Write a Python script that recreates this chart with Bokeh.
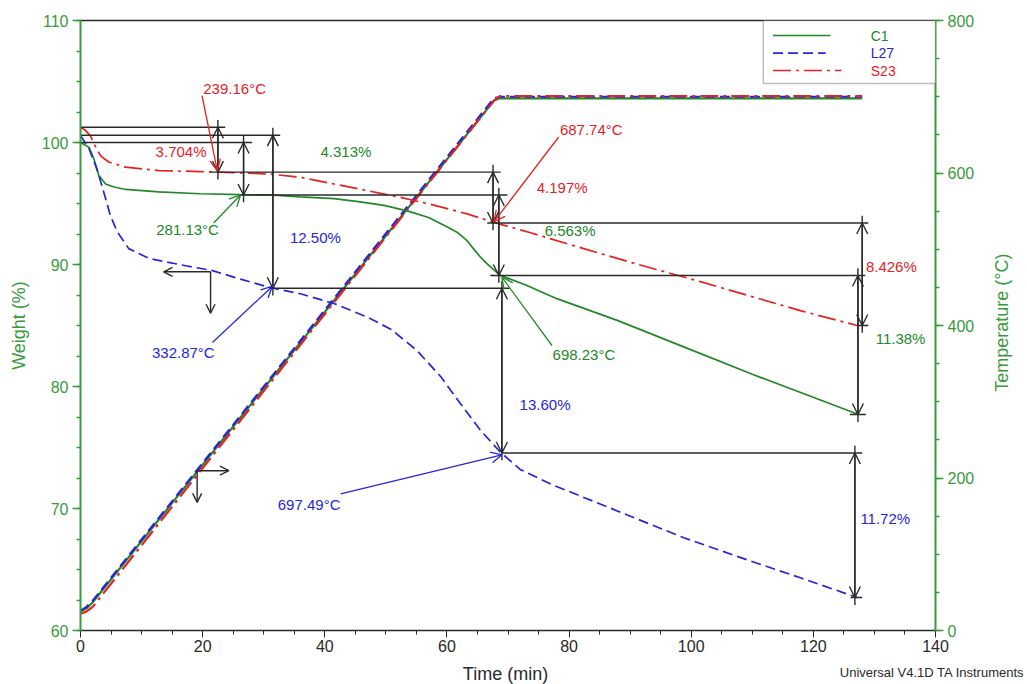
from math import pi
from bokeh.plotting import figure
from bokeh.layouts import column, row
from bokeh.models import (Range1d, LinearAxis, SingleIntervalTicker, FixedTicker, Arrow,
                          OpenHead, ColumnDataSource, Label, BoxAnnotation)
from bokeh.embed import file_html
from bokeh.resources import INLINE
from bokeh.core.properties import value

# ---------------- data ----------------
c1_time = [0, 1.4, 2.2, 3.0, 4.1, 5.5, 7.4, 12.8, 19.6, 26.2, 31.1, 36.0, 41.5, 45.5, 49.7,
           53.5, 57.0, 60.0, 61.8, 63.3, 64.5, 65.5, 66.5, 67.6, 68.8, 73.0, 78.0, 88.0,
           100.0, 110.0, 119.0, 127.4]
c1_weight = [100.0, 99.6, 98.65, 97.3, 96.6, 96.35, 96.15, 95.95, 95.8, 95.72, 95.7, 95.55,
             95.4, 95.15, 94.84, 94.4, 93.85, 93.1, 92.6, 91.95, 91.2, 90.6, 90.1, 89.6, 89.1,
             88.3, 87.2, 85.4, 83.0, 81.0, 79.3, 77.7]

l27_time = [0, 1.4, 2.7, 3.8, 4.9, 6.0, 7.9, 11.2, 17.2, 21.6, 26.2, 31.1, 36.0, 41.5, 46.9,
            50.8, 55.1, 59.0, 62.2, 65.5, 68.8, 72.0, 77.0, 87.9, 98.8, 109.7, 118.0, 127.2]
l27_weight = [100.57, 99.5, 97.8, 95.95, 94.0, 92.7, 91.3, 90.5, 89.9, 89.5, 88.8, 88.1, 87.6,
              86.8, 85.7, 84.7, 82.95, 80.8, 78.6, 76.4, 74.6, 73.2, 72.0, 69.8, 67.6, 65.7,
              64.3, 62.7]

s23_time = [0, 0.8, 1.6, 2.5, 3.3, 4.6, 7.4, 12.8, 19.6, 22.4, 30.6, 36.0, 41.5, 47.0, 52.4,
            58.0, 63.3, 67.7, 73.7, 82.4, 91.0, 101.5, 109.7, 118.0, 127.2]
s23_weight = [101.25, 101.0, 100.57, 99.6, 98.9, 98.4, 97.98, 97.7, 97.62, 97.57, 97.43, 97.15,
              96.6, 96.05, 95.5, 94.85, 94.15, 93.45, 92.6, 91.3, 90.05, 88.6, 87.4, 86.2, 85.0]

temp_time = [0, 1, 2, 67.7, 68.7, 128]
c1_temp = [25, 29, 37, 695, 698, 698]
l27_temp = [26, 31, 39, 698, 700, 700]
s23_temp = [22, 25, 31, 695, 701, 701]

series_names = ["C1", "L27", "S23"]

# step-analysis reference levels: weight, from time, to time
level_weight = [101.25, 100.6, 100.0, 97.57, 95.7, 93.4, 89.1, 88.05, 74.55, 85.0, 77.7, 62.7]
level_from = [0, 0, 0, 21.3, 26.2, 66.6, 67.1, 31.1, 69.0, 127.2, 126.0, 126.1]
level_to = [23.7, 32.7, 28.1, 68.8, 69.9, 129.0, 128.5, 70.3, 128.0, 129.0, 128.6, 128.0]

# step-change double arrows: time, upper weight, lower weight
step_time = [22.5, 26.7, 31.5, 67.55, 68.5, 69.0, 128.0, 127.3, 126.8]
step_top = [101.25, 100.0, 100.6, 97.57, 95.7, 88.05, 93.4, 89.1, 74.55]
step_bottom = [97.57, 95.7, 88.05, 93.4, 89.1, 74.55, 85.0, 77.7, 62.7]

# step-change labels
step_text = ["3.704%", "4.313%", "12.50%", "4.197%", "6.563%", "13.60%", "8.426%", "11.38%", "11.72%"]
step_text_x = [12.3, 39.3, 34.3, 74.7, 76.0, 71.9, 128.6, 130.2, 127.7]
step_text_y = [99.3, 99.3, 92.2, 96.3, 92.8, 78.5, 89.8, 83.9, 69.2]
step_text_series = ["S23", "C1", "L27", "S23", "C1", "L27", "S23", "C1", "L27"]

# onset temperature callouts
onset_text = ["239.16°C", "281.13°C", "332.87°C", "687.74°C", "698.23°C", "697.49°C"]
onset_series = ["S23", "C1", "L27", "S23", "C1", "L27"]
onset_text_x = [20.1, 12.4, 11.7, 78.5, 77.3, 32.3]
onset_text_y = [104.4, 92.9, 82.8, 101.05, 82.6, 70.3]
onset_from_x = [19.9, 21.8, 21.6, 78.3, 77.2, 42.6]
onset_from_y = [103.85, 93.4, 83.6, 100.45, 83.36, 71.2]
onset_to_x = [22.4, 26.2, 31.4, 67.7, 69.0, 69.0]
onset_to_y = [97.7, 95.7, 88.2, 93.5, 88.96, 74.4]

# axis-side indicator arrows: corner time, corner weight, horizontal tip time, vertical tip weight
ind_x = [21.3, 19.1]
ind_y = [89.4, 73.1]
ind_hx = [13.6, 24.3]
ind_vy = [86.0, 70.5]

# ---------------- styles ----------------
FONT = "Liberation Sans"
GREEN = "#23882a"
AXIS_GREEN = "#3a9a3e"
BLUE = "#2626d6"
RED = "#e5221f"
INK = "#2a2a2a"
colors = {"C1": GREEN, "L27": BLUE, "S23": RED}
dashes = {"C1": "solid", "L27": "10 5", "S23": "18 5 3 5"}

p = figure(width=985, height=660, x_range=Range1d(0, 140), y_range=Range1d(60, 110),
           output_backend="svg", toolbar_location=None,
           min_border_left=80, min_border_right=50, min_border_top=20, min_border_bottom=30)
p.extra_y_ranges = {"temp": Range1d(0, 800)}
p.outline_line_color = None
p.xgrid.visible = False
p.ygrid.visible = False
p.background_fill_color = "white"

# axes
xa = p.xaxis[0]
xa.ticker = SingleIntervalTicker(interval=20, num_minor_ticks=4)
xa.axis_line_color = INK
xa.axis_line_width = 1.5
xa.major_tick_line_color = INK
xa.minor_tick_line_color = INK
xa.major_tick_out = 7
xa.major_tick_in = 0
xa.minor_tick_out = 4
xa.minor_tick_in = 0
xa.major_label_text_font = FONT
xa.major_label_text_font_size = "16px"
xa.major_label_text_color = INK
xa.major_label_standoff = 2

ya = p.yaxis[0]
ya.ticker = SingleIntervalTicker(interval=10, num_minor_ticks=4)
ya.axis_label = "Weight (%)"
ya.axis_label_standoff = 10

ra = LinearAxis(y_range_name="temp", ticker=SingleIntervalTicker(interval=200, num_minor_ticks=4))
p.add_layout(ra, "right")
for ax in [ya, ra]:
    ax.axis_line_color = AXIS_GREEN
    ax.axis_line_width = 2
    ax.major_tick_line_color = AXIS_GREEN
    ax.minor_tick_line_color = AXIS_GREEN
    ax.major_tick_line_width = 1.5
    ax.minor_tick_line_width = 1.5
    ax.major_tick_out = 8
    ax.major_tick_in = 0
    ax.minor_tick_out = 4
    ax.minor_tick_in = 0
    ax.major_label_text_font = FONT
    ax.major_label_text_font_size = "16px"
    ax.major_label_text_color = AXIS_GREEN
    ax.major_label_standoff = 4
    ax.axis_label_text_font = FONT
    ax.axis_label_text_font_style = "normal"
    ax.axis_label_text_font_size = "18px"
    ax.axis_label_text_color = AXIS_GREEN

top = LinearAxis(ticker=FixedTicker(ticks=[]), major_tick_out=0, minor_tick_out=0,
                 major_tick_in=0, minor_tick_in=0, axis_line_color=INK, axis_line_width=1.5,
                 major_label_text_font_size="0px")
p.add_layout(top, "above")

# temperature curves
for t, name in zip([c1_temp, l27_temp, s23_temp], series_names):
    p.line(temp_time, t, y_range_name="temp", line_color=colors[name], line_width=2.2,
           line_dash=dashes[name])

# weight curves
for tt, ww, name in zip([c1_time, l27_time, s23_time], [c1_weight, l27_weight, s23_weight],
                        series_names):
    p.line(tt, ww, line_color=colors[name], line_width=1.7, line_dash=dashes[name])

# reference levels
p.segment(x0=level_from, y0=level_weight, x1=level_to, y1=level_weight,
          line_color=INK, line_width=1.4)

# step double arrows
ext = 0.6
p.segment(x0=step_time, y0=[v + ext for v in step_top], x1=step_time,
          y1=[v - ext for v in step_bottom], line_color=INK, line_width=1.4)
step_src = ColumnDataSource(dict(x=step_time, y0=step_top, y1=step_bottom))
p.add_layout(Arrow(source=step_src, x_start="x", y_start="y0", x_end="x", y_end="y1",
                   line_color=INK, line_width=1.4,
                   start=OpenHead(size=11, line_color=INK, line_width=1.4),
                   end=OpenHead(size=11, line_color=INK, line_width=1.4)))

# step labels
p.text(x=step_text_x, y=step_text_y, text=step_text,
       text_color=[colors[s] for s in step_text_series],
       text_font=value(FONT), text_font_size=value("15px"),
       text_align="left", text_baseline="middle")

# onset callouts
for i in range(len(onset_text)):
    c = colors[onset_series[i]]
    p.add_layout(Arrow(x_start=onset_from_x[i], y_start=onset_from_y[i],
                       x_end=onset_to_x[i], y_end=onset_to_y[i],
                       line_color=c, line_width=1.3,
                       end=OpenHead(size=11, line_color=c, line_width=1.3)))
p.text(x=onset_text_x, y=onset_text_y, text=onset_text,
       text_color=[colors[s] for s in onset_series],
       text_font=value(FONT), text_font_size=value("15px"),
       text_align="left", text_baseline="middle")

# axis-side indicators
for i in range(len(ind_x)):
    p.add_layout(Arrow(x_start=ind_x[i], y_start=ind_y[i], x_end=ind_hx[i], y_end=ind_y[i],
                       line_color=INK, line_width=1.4,
                       end=OpenHead(size=9, line_color=INK, line_width=1.4)))
    p.add_layout(Arrow(x_start=ind_x[i], y_start=ind_y[i], x_end=ind_x[i], y_end=ind_vy[i],
                       line_color=INK, line_width=1.4,
                       end=OpenHead(size=9, line_color=INK, line_width=1.4)))

# legend (manual, coloured labels)
p.add_layout(BoxAnnotation(left=111.8, right=140, top=110, bottom=104.84,
                           fill_color="white", fill_alpha=1, line_color=INK, line_width=1.4,
                           level="annotation"))
leg_y = [108.77, 107.32, 105.9]
leg_len = [9.4, 8.6, 11.2]
for name, yy, ln in zip(series_names, leg_y, leg_len):
    p.line([113.4, 113.4 + ln], [yy, yy], line_color=colors[name], line_width=1.7,
           line_dash=dashes[name], level="overlay")
    p.add_layout(Label(x=129.4, y=yy, text=name, text_color=colors[name], text_font=FONT,
                       text_font_size="14px", text_align="left", text_baseline="middle"))


def strip(w, h, xr, yr):
    f = figure(width=w, height=h, x_range=xr, y_range=yr, output_backend="svg",
               toolbar_location=None, x_axis_location=None, y_axis_location=None,
               min_border_left=0, min_border_right=0, min_border_top=0, min_border_bottom=0)
    f.outline_line_color = None
    f.xgrid.visible = False
    f.ygrid.visible = False
    return f


# right strip: temperature axis title (pixel coordinates of the page)
side = strip(42, 660, Range1d(985, 1027), Range1d(660, 0))
side.text(x=[1001], y=[327], text=["Temperature (°C)"], angle=pi / 2,
          text_color=AXIS_GREEN, text_font=value(FONT), text_font_size=value("18px"),
          text_align="center", text_baseline="middle")

# bottom strip: time axis title and instrument footer
foot = strip(1027, 24, Range1d(0, 1027), Range1d(684, 660))
foot.text(x=[505], y=[673], text=["Time (min)"], text_color=INK, text_font=value(FONT),
          text_font_size=value("18px"), text_align="center", text_baseline="middle")
foot.text(x=[1024], y=[672], text=["Universal V4.1D TA Instruments"], text_color=INK,
          text_font=value(FONT), text_font_size=value("13px"), text_align="right",
          text_baseline="middle")

layout = column(row(p, side, spacing=0), foot, spacing=0)
open("out.html", "w").write(file_html(layout, INLINE))
